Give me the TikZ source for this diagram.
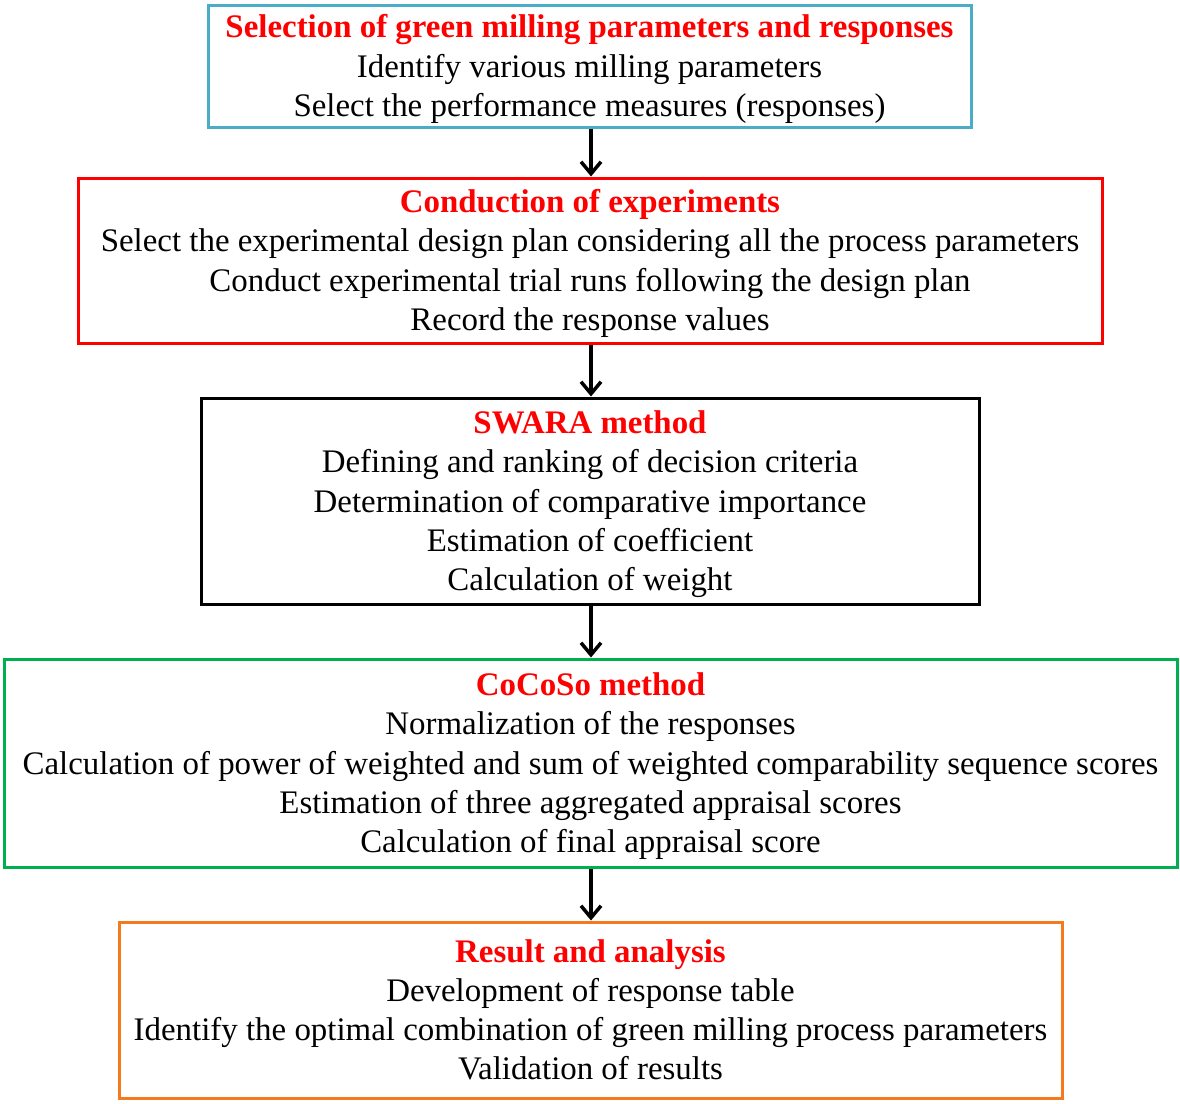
\documentclass[tikz,border=0pt]{standalone}
\usepackage{fontspec}
\setmainfont{Liberation Serif}
\usetikzlibrary{arrows.meta}
\definecolor{bcyan}{HTML}{4BACC6}
\definecolor{bred}{HTML}{FF0000}
\definecolor{bgreen}{HTML}{00B050}
\definecolor{borange}{HTML}{F57A1E}
\definecolor{tred}{HTML}{FF0000}
\newcommand{\topstrut}{\rule{0pt}{30pt}}
\newcommand{\botstrut}{\rule[-8pt]{0pt}{8pt}}
\begin{document}
\begin{tikzpicture}[x=1pt,y=-1pt,
  stagebox/.style={draw, line width=3pt, rectangle, inner sep=0pt, align=center,
    font=\fontsize{32.9}{39.2}\selectfont},
  flowarrow/.style={line width=3.5pt, -{Straight Barb[length=12pt,width=20pt,line width=3.5pt]}}]
\useasboundingbox (0,0) rectangle (1180,1103);
\node[stagebox, draw=bcyan, minimum width=763pt, minimum height=122pt] (s1) at (589.5,66)
 {\topstrut{\color{tred}\bfseries Selection of green milling parameters and responses}\\
  Identify various milling parameters\\
  Select the performance measures (responses)\botstrut};
\node[stagebox, draw=bred, minimum width=1024pt, minimum height=165pt] (s2) at (590,260.5)
 {\topstrut{\color{tred}\bfseries Conduction of experiments}\\
  Select the experimental design plan considering all the process parameters\\
  Conduct experimental trial runs following the design plan\\
  Record the response values\botstrut};
\node[stagebox, draw=black, minimum width=778pt, minimum height=206pt] (s3) at (590,501)
 {\topstrut{\color{tred}\bfseries SWARA method}\\
  Defining and ranking of decision criteria\\
  Determination of comparative importance\\
  Estimation of coefficient\\
  Calculation of weight\botstrut};
\node[stagebox, draw=bgreen, minimum width=1173pt, minimum height=208pt] (s4) at (590.5,763)
 {\topstrut{\color{tred}\bfseries CoCoSo method}\\
  Normalization of the responses\\
  Calculation of power of weighted and sum of weighted comparability sequence scores\\
  Estimation of three aggregated appraisal scores\\
  Calculation of final appraisal score\botstrut};
\node[stagebox, draw=borange, minimum width=943pt, minimum height=176pt] (s5) at (590.5,1010)
 {\topstrut{\color{tred}\bfseries Result and analysis}\\
  Development of response table\\
  Identify the optimal combination of green milling process parameters\\
  Validation of results\botstrut};
\draw[flowarrow] (s1.south -| 591,0) -- (s2.north -| 591,0);
\draw[flowarrow] (s2.south -| 591,0) -- (s3.north -| 591,0);
\draw[flowarrow] (s3.south -| 591,0) -- (s4.north -| 591,0);
\draw[flowarrow] (s4.south -| 591,0) -- (s5.north -| 591,0);
\end{tikzpicture}
\end{document}
